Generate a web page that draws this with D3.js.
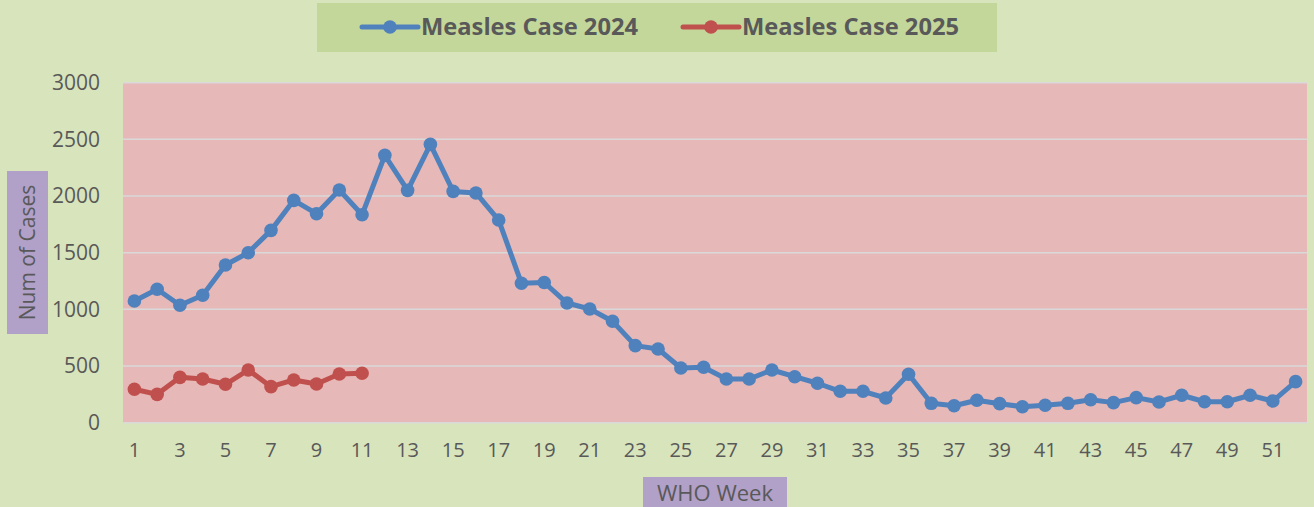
<!DOCTYPE html>
<html>
<head>
<meta charset="utf-8">
<script src="https://cdn.jsdelivr.net/npm/d3@7"></script>
<style>
  body { margin: 0; background: #D8E4BC; }
  svg { display: block; }
  text { font-family: "Open Sans", "Noto Sans", sans-serif; fill: #595959; }
</style>
</head>
<body>
<svg id="chart" width="1314" height="507"></svg>
<script>
// week numbers 1..52
const weeks = [1,2,3,4,5,6,7,8,9,10,11,12,13,14,15,16,17,18,19,20,21,22,23,24,25,26,
  27,28,29,30,31,32,33,34,35,36,37,38,39,40,41,42,43,44,45,46,47,48,49,50,51,52];

const cases2024 = [1074,1177,1036,1124,1391,1500,1697,1962,1844,2053,1835,2359,2050,2456,
  2041,2027,1788,1230,1237,1056,1003,895,680,650,483,489,386,386,465,406,348,277,277,218,
  428,171,150,198,168,141,154,171,203,177,221,183,242,185,185,242,191,362];

const cases2025 = [295,250,400,386,339,465,318,377,342,430,436];

const yTicks = [0,500,1000,1500,2000,2500,3000];

const legendItems = [
  {name: "Measles Case 2024", color: "#4F81BD"},
  {name: "Measles Case 2025", color: "#C0504D"}
];

const svg = d3.select("svg#chart");
const plot = {left: 123, right: 1307, top: 82.7, bottom: 422.7};

const x = d3.scaleBand()
  .domain(weeks)
  .range([plot.left, plot.right]);

const y = d3.scaleLinear()
  .domain([0, 3000])
  .range([plot.bottom, plot.top]);

// plot background
svg.append("rect")
  .attr("x", plot.left)
  .attr("y", plot.top)
  .attr("width", plot.right - plot.left)
  .attr("height", plot.bottom - plot.top)
  .attr("fill", "#E6B8B7");

// gridlines
svg.append("g")
  .selectAll("line")
  .data(yTicks)
  .enter()
  .append("line")
  .attr("x1", plot.left)
  .attr("x2", plot.right)
  .attr("y1", d => y(d))
  .attr("y2", d => y(d))
  .attr("stroke", "#D9D9D9")
  .attr("stroke-width", 1.5);

// y axis labels
const yAxis = svg.append("g")
  .attr("transform", `translate(${plot.left},0)`)
  .call(d3.axisLeft(y).tickValues(yTicks).tickFormat(d3.format("d")).tickSize(0).tickPadding(23));
yAxis.select(".domain").remove();
yAxis.selectAll("text")
  .style("font-size", "21px")
  .attr("fill", "#595959");

// x axis labels (every other week)
const xAxis = svg.append("g")
  .attr("transform", `translate(0,${plot.bottom})`)
  .call(d3.axisBottom(x).tickValues(weeks.filter(w => w % 2 === 1)).tickSize(0).tickPadding(20));
xAxis.select(".domain").remove();
xAxis.selectAll("text")
  .style("font-size", "20px")
  .attr("fill", "#595959");

// series
const line = d3.line()
  .x((d, i) => x(weeks[i]) + x.bandwidth() / 2)
  .y(d => y(d));

function drawSeries(values, color) {
  const g = svg.append("g");
  g.append("path")
    .datum(values)
    .attr("d", line)
    .attr("fill", "none")
    .attr("stroke", color)
    .attr("stroke-width", 5)
    .attr("stroke-linejoin", "round");
  g.selectAll("circle")
    .data(values)
    .enter()
    .append("circle")
    .attr("cx", (d, i) => x(weeks[i]) + x.bandwidth() / 2)
    .attr("cy", d => y(d))
    .attr("r", 6.8)
    .attr("fill", color);
}
drawSeries(cases2024, legendItems[0].color);
drawSeries(cases2025, legendItems[1].color);

// legend
svg.append("rect")
  .attr("x", 317).attr("y", 3)
  .attr("width", 680).attr("height", 49)
  .attr("fill", "#C4D79B");

const legend = svg.append("g")
  .selectAll("g")
  .data(legendItems)
  .enter()
  .append("g")
  .attr("transform", (d, i) => `translate(${362 + i * 321},27)`);
legend.append("line")
  .attr("x1", 0).attr("x2", 56)
  .attr("stroke", d => d.color)
  .attr("stroke-width", 5)
  .attr("stroke-linecap", "round");
legend.append("circle")
  .attr("cx", 28).attr("r", 6.8)
  .attr("fill", d => d.color);
legend.append("text")
  .attr("x", 59)
  .attr("y", 8)
  .attr("textLength", 217)
  .attr("lengthAdjust", "spacingAndGlyphs")
  .style("font-size", "23px")
  .style("font-weight", "bold")
  .text(d => d.name);

// y axis title
svg.append("rect")
  .attr("x", 7).attr("y", 171)
  .attr("width", 41).attr("height", 163)
  .attr("fill", "#B1A0C7");
svg.append("text")
  .attr("transform", "translate(35,252.5) rotate(-90)")
  .attr("text-anchor", "middle")
  .style("font-size", "21px")
  .text("Num of Cases");

// x axis title
svg.append("rect")
  .attr("x", 643).attr("y", 477)
  .attr("width", 144).attr("height", 30)
  .attr("fill", "#B1A0C7");
svg.append("text")
  .attr("x", 715)
  .attr("y", 501)
  .attr("text-anchor", "middle")
  .style("font-size", "22px")
  .text("WHO Week");
</script>
</body>
</html>
